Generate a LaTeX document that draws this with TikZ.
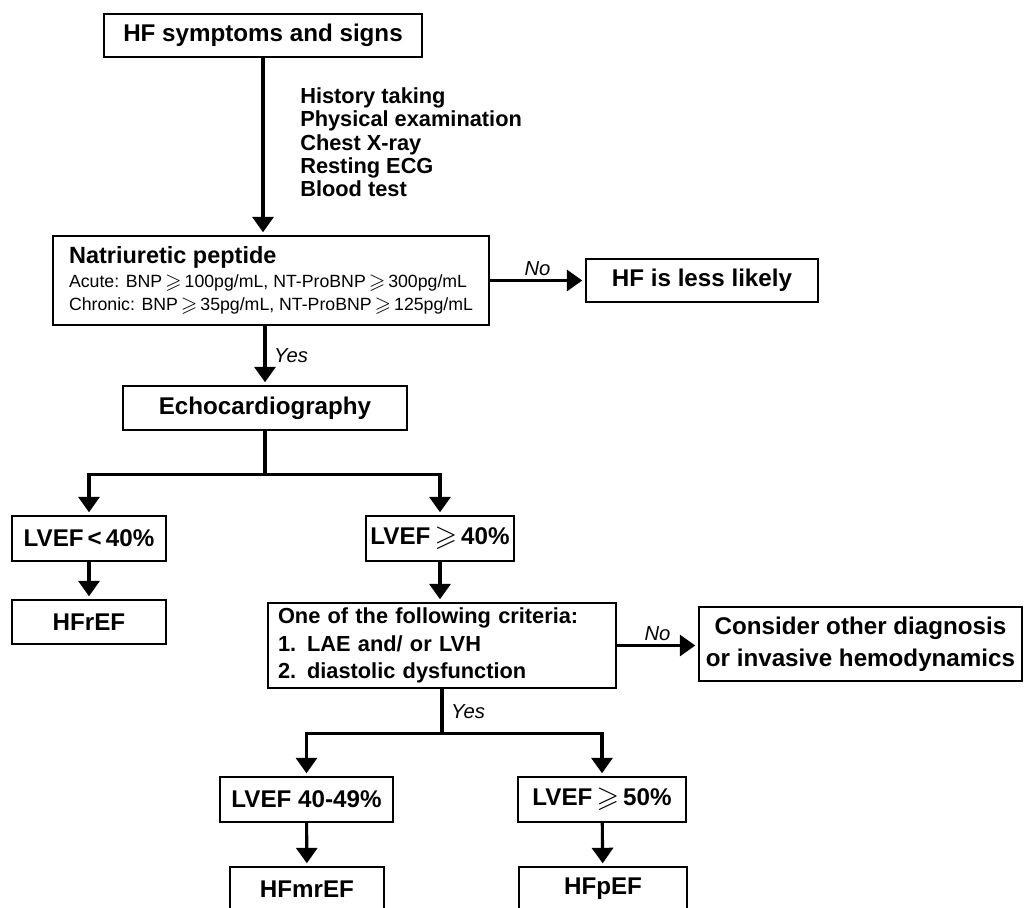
\documentclass[tikz,border=0pt]{standalone}
\usepackage{amssymb}
\usepackage{graphicx}
\usepackage{fontspec}
\setmainfont{Liberation Sans}
\usetikzlibrary{arrows.meta}
\usetikzlibrary{calc}

\newcommand{\gesl}{\,\raisebox{-0.1ex}{\scalebox{1.2}{$\geqslant$}}\,}

\begin{document}
\begin{tikzpicture}[
  box/.style={draw, line width=1.3pt, inner sep=0pt, font=\bfseries\fontsize{17.2}{20}\selectfont},
  arr/.style={line width=2.2pt, -{Triangle[length=11pt,width=15pt]}, shorten >=2pt},
  link/.style={line width=2.2pt},
  lbl/.style={font=\itshape\fontsize{14.4}{17}\selectfont}
]
\useasboundingbox (0,0) rectangle (25.65,-22.675);

\node[box, minimum width=7.95cm, minimum height=1.075cm] (symp) at (6.575,-0.8875) {HF symptoms and signs};
\node[anchor=west, align=left, inner sep=0pt, font=\bfseries\fontsize{15.5}{16.6}\selectfont] (tests) at (7.5,-3.5625)
  {History taking\\Physical examination\\Chest X-ray\\Resting ECG\\Blood test};

\node[box, minimum width=10.9cm, minimum height=2.225cm, align=left,
  font=\fontsize{12.6}{16}\selectfont] (np) at (6.775,-7.0125)
  {{\bfseries\fontsize{16.7}{19}\selectfont Natriuretic peptide}\\[1pt]
   Acute: BNP\gesl 100pg/mL, NT-ProBNP\gesl 300pg/mL\\
   Chronic: BNP\gesl 35pg/mL, NT-ProBNP\gesl 125pg/mL};
\node[box, minimum width=5.8cm, minimum height=1.075cm] (less) at (17.55,-7.0125) {HF is less likely};

\node[box, minimum width=7.1cm, minimum height=1.1cm] (echo) at (6.625,-10.2) {Echocardiography};

\node[box, minimum width=3.85cm, minimum height=1.125cm] (lt40) at (2.225,-13.4625) {LVEF\,<\,40\%};
\node[box, minimum width=3.7cm, minimum height=1.125cm] (ge40) at (11.0,-13.4625) {LVEF\gesl 40\%};
\node[box, minimum width=3.85cm, minimum height=1.1cm] (hfref) at (2.225,-15.55) {HFrEF};

\node[box, text width=8.2cm, inner xsep=0.25cm, minimum height=2.125cm, align=left,
  font=\bfseries\fontsize{15.5}{19.5}\selectfont] (crit) at (11.05,-16.1375)
  {One of the following criteria:\\1. LAE and/ or LVH\\2. diastolic dysfunction};
\node[box, minimum width=8.075cm, minimum height=1.85cm, align=center,
  font=\bfseries\fontsize{17.2}{22.5}\selectfont] (other) at (21.5125,-16.1)
  {Consider other diagnosis\\or invasive hemodynamics};

\node[box, minimum width=4.325cm, minimum height=1.125cm] (mid) at (7.6625,-19.9875) {LVEF 40-49\%};
\node[box, minimum width=4.2cm, minimum height=1.125cm] (ge50) at (15.05,-19.9875) {LVEF\gesl 50\%};
\node[box, minimum width=3.85cm, minimum height=1.1cm] (mr) at (7.675,-22.225) {HFmrEF};
\node[box, minimum width=4.2cm, minimum height=1.1cm] (pef) at (15.075,-22.225) {HFpEF};

% connectors
\draw[arr] (symp.south) -- (symp.south |- np.north);
\draw[arr] (np.east) -- (less.west);
\node[lbl, above] (no1) at ($(np.east)!0.5!(less.west)$) {No};
\draw[arr] (echo.north |- np.south) -- (echo.north);
\node[lbl, right, xshift=3pt] (yes1) at ($(echo.north |- np.south)!0.5!(echo.north)$) {Yes};

\draw[link] (echo.south) -- ++(0,-1.1) coordinate (split1);
\draw[arr] (split1) -| (lt40.north);
\draw[arr] (split1) -| (ge40.north);
\draw[arr] (lt40) -- (hfref);
\draw[arr] (ge40.south) -- (ge40.south |- crit.north);

\draw[arr] (crit.east) -- (crit.east -| other.west);
\node[lbl, above] (no2) at ($(crit.east)!0.5!(crit.east -| other.west)$) {No};
\draw[link] (crit.south) -- ++(0,-1.125) coordinate (split2);
\node[lbl, right, xshift=3pt] (yes2) at ($(crit.south)!0.5!(split2)$) {Yes};
\draw[arr] (split2) -| (mid.north);
\draw[arr] (split2) -| (ge50.north);
\draw[arr] (mid) -- (mr);
\draw[arr] (ge50) -- (pef);

\end{tikzpicture}
\end{document}
